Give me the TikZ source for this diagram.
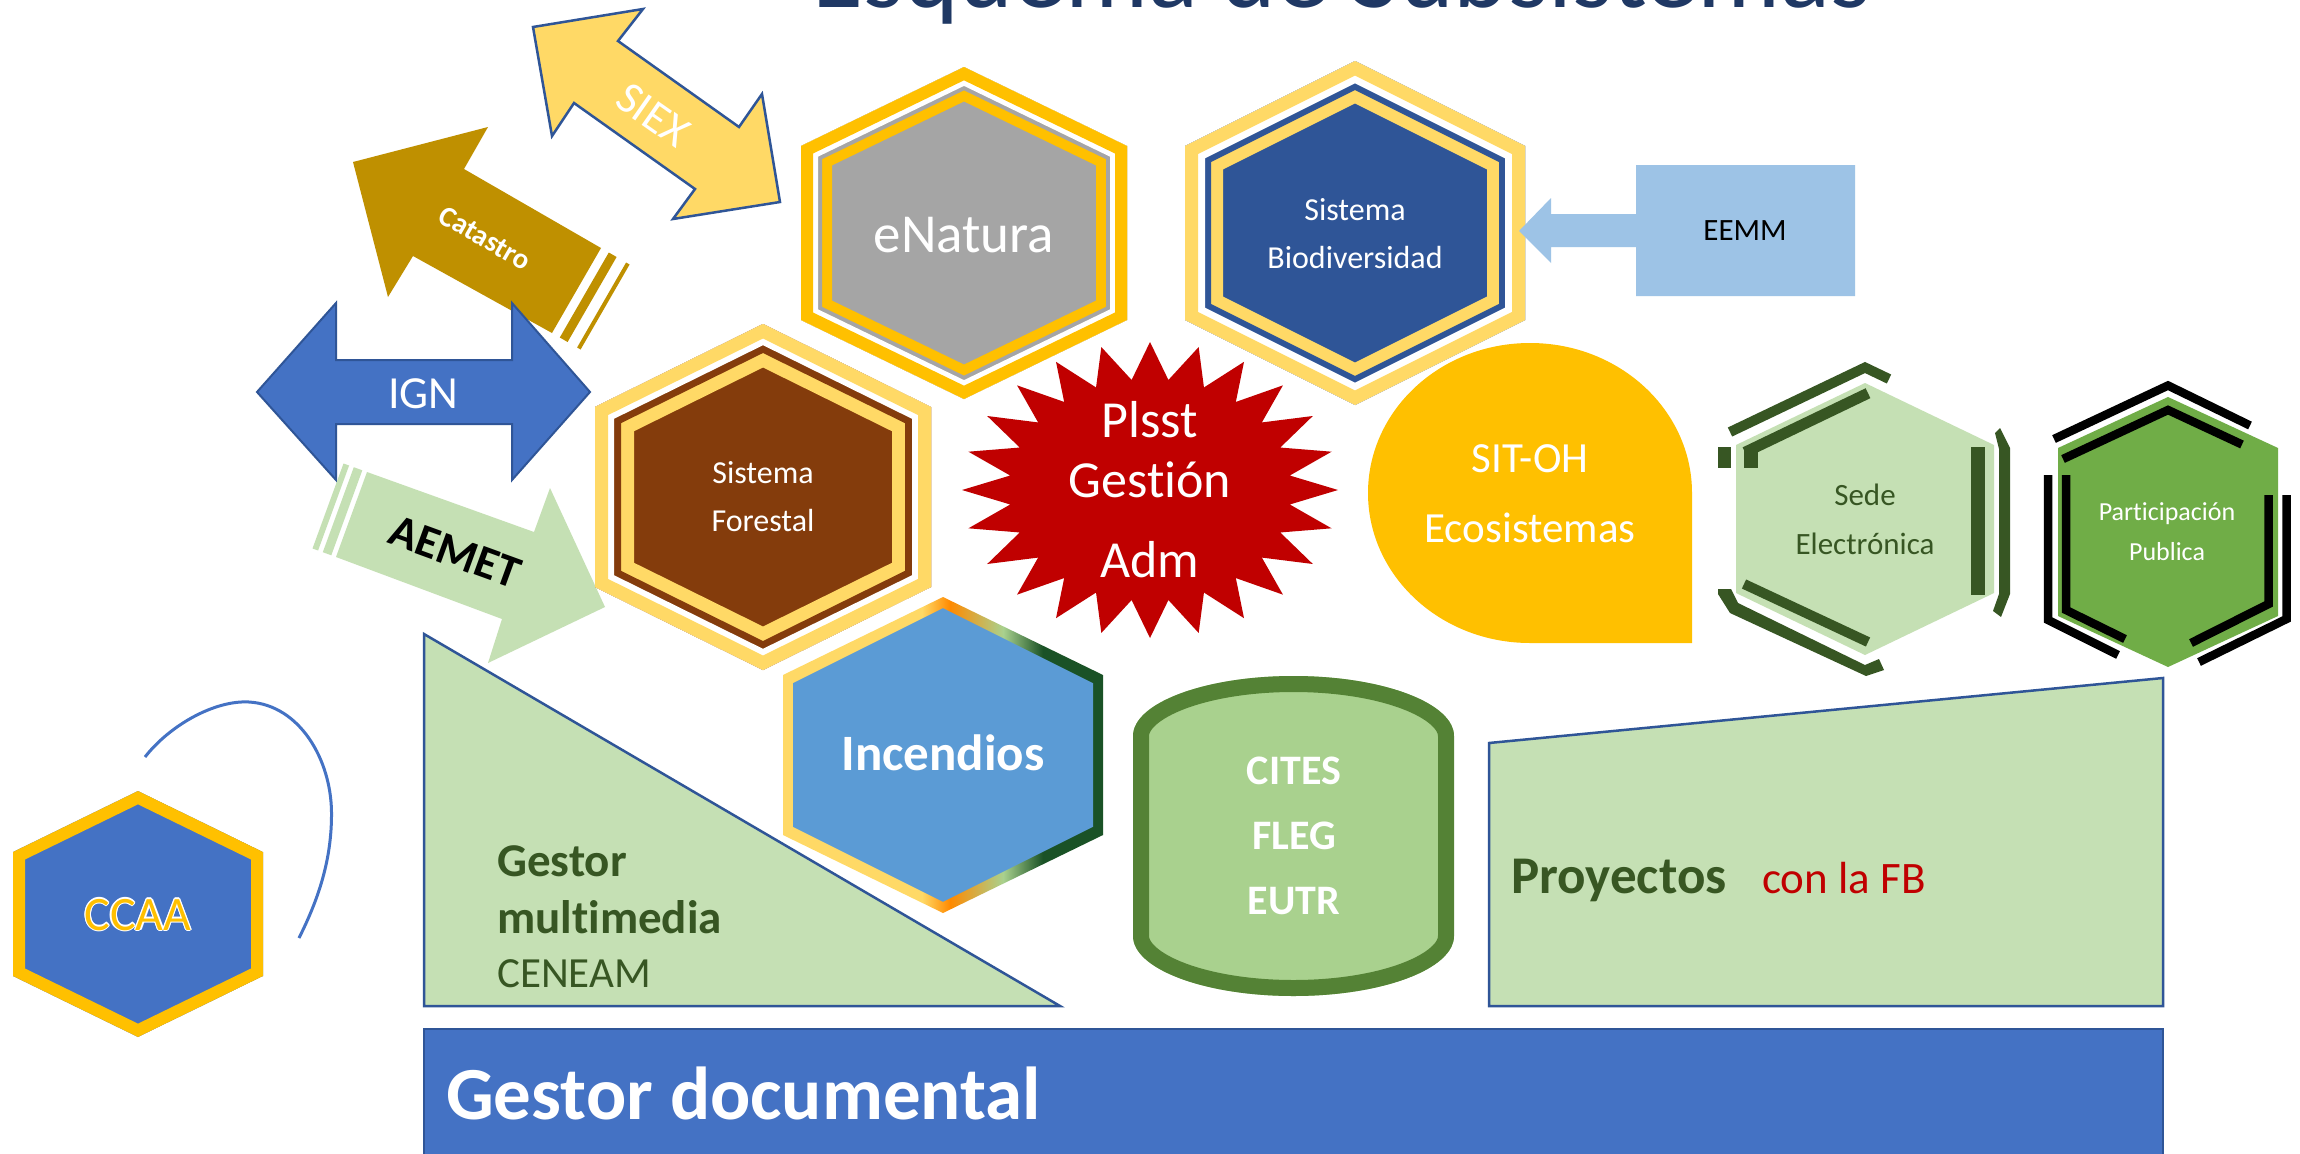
\documentclass[tikz,border=0pt]{standalone}
\usepackage{fontspec}
\setmainfont{Carlito}[Ligatures=NoCommon]
\definecolor{cGold}{HTML}{FFC000}
\definecolor{cLGold}{HTML}{FFD966}
\definecolor{cGrey}{HTML}{A5A5A5}
\definecolor{cBlue}{HTML}{4472C4}
\definecolor{cDBlue}{HTML}{2F5597}
\definecolor{cBrown}{HTML}{843C0C}
\definecolor{cRed}{HTML}{C00000}
\definecolor{cIncBlue}{HTML}{5B9BD5}
\definecolor{cOrange}{HTML}{FF8A00}
\definecolor{cIncLG}{HTML}{A9D18E}
\definecolor{cIncDG}{HTML}{1A5226}
\definecolor{cLGreen}{HTML}{C5E0B4}
\definecolor{cSede}{HTML}{375623}
\definecolor{cPGreen}{HTML}{70AD47}
\definecolor{cCanFill}{HTML}{A9D18E}
\definecolor{cCanBorder}{HTML}{548235}
\definecolor{cTitle}{HTML}{1F3864}
\definecolor{cEEMM}{HTML}{9DC3E6}
\definecolor{cCat}{HTML}{BF9000}
\definecolor{cTxtGreen}{HTML}{385723}
\pgfdeclarehorizontalshading{incgrad}{100bp}{color(0bp)=(cLGold); color(25bp)=(cLGold); color(46.7bp)=(cLGold); color(51.1bp)=(cOrange); color(59.4bp)=(cIncLG); color(65.6bp)=(cIncDG); color(75bp)=(cIncDG); color(100bp)=(cIncDG)}
\newcommand\myfs[1]{\fontsize{#1pt}{#1pt}\selectfont}
\newcommand\hexpath[5]{(#1,#2-#4) -- (#1+#3,#2-#5) -- (#1+#3,#2+#5) -- (#1,#2+#4) -- (#1-#3,#2+#5) -- (#1-#3,#2-#5) -- cycle}
\newcommand\canpath{(1133,736) .. controls (1133,702.9) and (1204.9,676) .. (1293.5,676) .. controls (1382.1,676) and (1454,702.9) .. (1454,736) -- (1454,936) .. controls (1454,969.1) and (1382.1,996) .. (1293.5,996) .. controls (1204.9,996) and (1133,969.1) .. (1133,936) -- cycle}
\begin{document}
\begin{tikzpicture}[x=1pt,y=-1pt,line join=miter,
  lbl/.style={inner sep=0pt},
  wt/.style={lbl,text=white}]
\useasboundingbox (0,0) rectangle (2300,1154);
\clip (0,0) rectangle (2300,1154);
\fill[white] (0,0) rectangle (2300,1154);

% title (cut off at top)
\node[lbl,anchor=base,text=cTitle,font=\myfs{104}] (title) at (1342,7) {Esquema de Subsistemas};

% SIEX double arrow
\filldraw[fill=cLGold,draw=cDBlue,line width=2.5pt] (533,27) -- (643,9) -- (618,41) -- (739,127) -- (762,94) -- (780,202) -- (673,219) -- (695,189) -- (574,103) -- (552,136) -- cycle;
\node[wt,rotate=-35,font=\myfs{45}] (siex) at (653,115) {SIEX};

% Catastro striped arrow
\fill[cCat] (353,162) -- (488,127) -- (464,169) -- (601,248) -- (552,333) -- (413,256) -- (388,297) -- cycle;
\fill[cCat] (608.8,252.5) -- (616.6,257) -- (567.6,342) -- (559.8,337.5) -- cycle;
\fill[cCat] (626.1,262.5) -- (629.6,264.5) -- (580.6,349.5) -- (577.1,347.5) -- cycle;
\node[wt,rotate=-30,font=\bfseries\myfs{29}] (catastro) at (485,238) {Catastro};

% IGN double arrow
\filldraw[fill=cBlue,draw=cDBlue,line width=2pt] (257,392) -- (336,303) -- (336,360) -- (512,360) -- (512,303) -- (590,392) -- (512,480) -- (512,424) -- (336,424) -- (336,480) -- cycle;
\node[wt,anchor=base,font=\myfs{46}] (ign) at (423.5,408) {IGN};

% AEMET striped arrow
\fill[cLGreen] (605,607) -- (550,488) -- (534,532) -- (367,472) -- (336,557) -- (502,619) -- (488,663) -- cycle;
\fill[cLGreen] (362.3,470.3) -- (353.8,467.2) -- (322.8,552.2) -- (331.3,555.3) -- cycle;
\fill[cLGreen] (349.1,465.5) -- (343.5,463.5) -- (312.5,548.5) -- (318.1,550.5) -- cycle;
\node[lbl,rotate=-20,font=\bfseries\myfs{46}] (aemet) at (455,552) {AEMET};

% eNatura hexagon
\begin{scope}
\clip \hexpath{964}{233}{163}{166}{87};
\fill[cGrey] \hexpath{964}{233}{163}{166}{87};
\draw[cGold,line width=62pt] \hexpath{964}{233}{163}{166}{87};
\draw[cGrey,line width=42pt] \hexpath{964}{233}{163}{166}{87};
\draw[white,line width=34pt] \hexpath{964}{233}{163}{166}{87};
\draw[cGold,line width=24pt] \hexpath{964}{233}{163}{166}{87};
\end{scope}
\node[wt,anchor=base,font=\myfs{55}] (enatura) at (964,252) {eNatura};

% Sistema Biodiversidad hexagon
\begin{scope}
\clip \hexpath{1355}{233}{170}{172}{87};
\fill[cDBlue] \hexpath{1355}{233}{170}{172}{87};
\draw[cLGold,line width=76pt] \hexpath{1355}{233}{170}{172}{87};
\draw[cDBlue,line width=52pt] \hexpath{1355}{233}{170}{172}{87};
\draw[white,line width=40pt] \hexpath{1355}{233}{170}{172}{87};
\draw[cLGold,line width=26pt] \hexpath{1355}{233}{170}{172}{87};
\end{scope}
\node[wt,anchor=base,font=\myfs{32}] (bio1) at (1355,220) {Sistema};
\node[wt,anchor=base,font=\myfs{32}] (bio2) at (1355,268) {Biodiversidad};

% EEMM callout
\fill[cEEMM] (1636,165) -- (1855,165) -- (1855,296) -- (1636,296) -- (1636,247) -- (1551,247) -- (1551,263) -- (1519,231) -- (1551,198) -- (1551,214) -- (1636,214) -- cycle;
\node[lbl,anchor=base,font=\myfs{31}] (eemm) at (1745,240) {EEMM};

% Sistema Forestal hexagon
\begin{scope}
\clip \hexpath{763}{497}{168}{173}{90};
\fill[cBrown] \hexpath{763}{497}{168}{173}{90};
\draw[cLGold,line width=78pt] \hexpath{763}{497}{168}{173}{90};
\draw[cBrown,line width=52pt] \hexpath{763}{497}{168}{173}{90};
\draw[white,line width=38pt] \hexpath{763}{497}{168}{173}{90};
\draw[cLGold,line width=26pt] \hexpath{763}{497}{168}{173}{90};
\end{scope}
\node[wt,anchor=base,font=\myfs{32}] (for1) at (763,483) {Sistema};
\node[wt,anchor=base,font=\myfs{32}] (for2) at (763,531) {Forestal};

% Incendios hexagon with gradient border
\begin{scope}
\clip \hexpath{943}{755}{160}{158}{80};
\shade[shading=incgrad] (783,597) rectangle (1103,913);
\end{scope}
\fill[cIncBlue] \hexpath{943}{755}{150}{146.8}{71.8};
\node[wt,anchor=base,font=\bfseries\myfs{51}] (incendios) at (943,770) {Incendios};

% Plsst star
\fill[cRed] (1338,490) \foreach \i in {1,...,47} { -- ({1150+188*(1-0.25*mod(\i,2))*cos(7.5*\i)},{490+148*(1-0.25*mod(\i,2))*sin(7.5*\i)}) } -- cycle;
\node[wt,anchor=base,font=\myfs{52}] (pl1) at (1150,437) {Plsst};
\node[wt,anchor=base,font=\myfs{52}] (pl2) at (1150,497) {Gestión};
\node[wt,anchor=base,font=\myfs{52}] (pl3) at (1150,577) {Adm};

% SIT-OH teardrop
\fill[cGold] (1692,493) .. controls (1692,410.2) and (1619.5,343) .. (1530,343) .. controls (1440.5,343) and (1368,410.2) .. (1368,493) .. controls (1368,575.8) and (1440.5,643) .. (1530,643) -- (1692,643) -- cycle;
\node[wt,anchor=base,font=\myfs{43}] (sit1) at (1530,472) {SIT-OH};
\node[wt,anchor=base,font=\myfs{43}] (sit2) at (1530,542) {Ecosistemas};

% Sede Electronica hexagon with brackets
\fill[cLGreen] \hexpath{1865}{519}{129}{136}{74};
\draw[cSede,line width=10pt] (1730,432) -- (1865,367.5) -- (1889,379);
\draw[cSede,line width=11pt] (1745,452.3) -- (1868,393.2);
\fill[cSede] (1744,447) rectangle (1758,468);
\fill[cSede] (1718,447) rectangle (1731,468);
\fill[cSede] (1971,447) rectangle (1985,595);
\fill[cSede] (1995,433) -- (2000,428) -- (2010,448) -- (2010,594) -- (2001,617) -- (1993,611) -- (1999,594) -- (1999,449) -- cycle;
\fill[cSede] (1718,589) -- (1731,589) -- (1738,603) -- (1865,665) -- (1879,659) -- (1884,670) -- (1866,676) -- (1730,613) -- (1718,594) -- cycle;
\draw[cSede,line width=10pt] (1744,584) -- (1868,642);
\node[lbl,anchor=base,text=cSede,font=\myfs{31}] (sede1) at (1865,505) {Sede};
\node[lbl,anchor=base,text=cSede,font=\myfs{31}] (sede2) at (1865,554) {Electrónica};

% Participacion Publica hexagon with black brackets
\fill[cPGreen] \hexpath{2168}{532}{110}{135}{84};
\draw[black,line width=8.5pt] (2054,439) -- (2168,385.5) -- (2250,425.5);
\draw[black,line width=8.5pt] (2063,459) -- (2168,410) -- (2242,444.5);
\draw[black,line width=8.5pt] (2048,475) -- (2048,620) -- (2118,655);
\draw[black,line width=8.5pt] (2066,475) -- (2066,610) -- (2125,639);
\draw[black,line width=8.5pt] (2268.5,495) -- (2268.5,604) -- (2191,643);
\draw[black,line width=8.5pt] (2286.5,495) -- (2286.5,619) -- (2199,662);
\node[wt,anchor=base,font=\myfs{26}] (part1) at (2167,520) {Participación};
\node[wt,anchor=base,font=\myfs{26}] (part2) at (2167,560) {Publica};

% Gestor multimedia triangle
\filldraw[fill=cLGreen,draw=cDBlue,line width=2.5pt] (424,634) -- (1060,1006) -- (424,1006) -- cycle;
\node[lbl,anchor=base west,text=cSede,font=\bfseries\myfs{47}] (gm1) at (497,876) {Gestor};
\node[lbl,anchor=base west,text=cSede,font=\bfseries\myfs{47}] (gm2) at (497,933) {multimedia};
\node[lbl,anchor=base west,text=cSede,font=\myfs{43}] (gm3) at (497,987) {CENEAM};

% CITES can
\begin{scope}
\clip \canpath;
\fill[cCanFill] \canpath;
\draw[cCanBorder,line width=32pt] \canpath;
\end{scope}
\node[wt,anchor=base,font=\bfseries\myfs{42}] (cites) at (1294,784) {CITES};
\node[wt,anchor=base,font=\bfseries\myfs{42}] (fleg) at (1294,849) {FLEG};
\node[wt,anchor=base,font=\bfseries\myfs{42}] (eutr) at (1294,914.5) {EUTR};

% Proyectos trapezoid
\filldraw[fill=cLGreen,draw=cDBlue,line width=2.5pt] (1489,743) -- (2163,678) -- (2163,1006) -- (1489,1006) -- cycle;
\node[lbl,anchor=base west,text=cTxtGreen,font=\bfseries\myfs{53}] (proy) at (1511,893) {Proyectos};
\node[lbl,anchor=base west,text=cRed,font=\myfs{45}] (confb) at (1762,893) {con la FB};

% CCAA hexagon
\begin{scope}
\clip \hexpath{138}{914}{125}{123}{62};
\fill[cBlue] \hexpath{138}{914}{125}{123}{62};
\draw[cGold,line width=24pt] \hexpath{138}{914}{125}{123}{62};
\end{scope}
\foreach \dx/\dy [count=\k] in {1.3/0,-1.3/0,0/1.3,0/-1.3,0.9/0.9,-0.9/0.9,0.9/-0.9,-0.9/-0.9}
  \node[lbl,anchor=base,text=white,font=\myfs{48}] (ccaao\k) at (138+\dx,930+\dy) {CCAA};
\node[lbl,anchor=base,text=cGold,font=\myfs{48}] (ccaa) at (138,930) {CCAA};

% blue arc
\draw[cBlue,line width=3pt] (145,757) .. controls (170,725) and (215,700) .. (249,702) .. controls (300,705) and (331,760) .. (331.5,812) .. controls (332,860) and (318,900) .. (299,938);

% Gestor documental bar
\filldraw[fill=cBlue,draw=cDBlue,line width=2pt] (424,1029) rectangle (2163,1170);
\node[wt,anchor=base west,font=\bfseries\myfs{75}] (gdoc) at (446,1119) {Gestor documental};
\end{tikzpicture}
\end{document}
